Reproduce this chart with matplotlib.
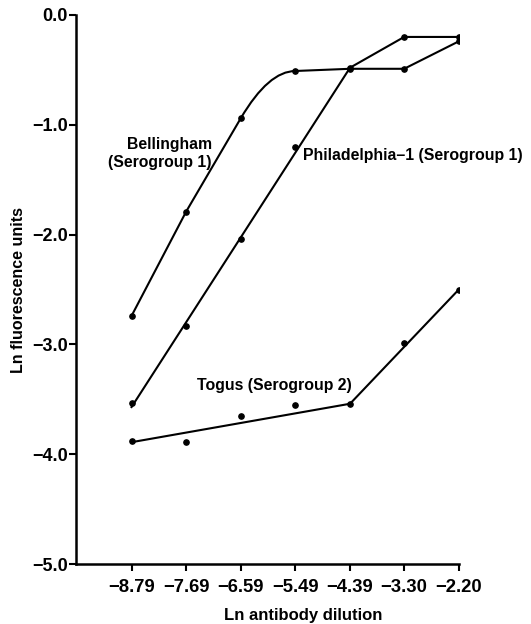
import matplotlib
matplotlib.use("Agg")
import matplotlib.pyplot as plt
from matplotlib.path import Path
from matplotlib.patches import PathPatch

plt.rcParams['font.family'] = ['Liberation Sans', 'DejaVu Sans']
plt.rcParams['font.weight'] = 'bold'

# Ln antibody dilution (x) et Ln fluorescence units (y)
dilutions = [-8.79, -7.69, -6.59, -5.49, -4.39, -3.30, -2.20]
x_tick_labels = ["\u22128.79", "\u22127.69", "\u22126.59", "\u22125.49",
                 "\u22124.39", "\u22123.30", "\u22122.20"]
y_ticks = [0.0, -1.0, -2.0, -3.0, -4.0, -5.0]
y_tick_labels = ["0.0", "\u22121.0", "\u22122.0", "\u22123.0", "\u22124.0", "\u22125.0"]

bell_y = [-2.74, -1.79, -0.94, -0.51, -0.49, -0.49, -0.24]
phil_y = [-3.53, -2.83, -2.04, -1.20, -0.48, -0.20, -0.20]
togus_y = [-3.88, -3.89, -3.65, -3.55, -3.54, -2.99, -2.50]

# courbes tracees a la main sur la figure
bell_bend_x = [-6.59, -6.03, -5.49]
bell_bend_y = [-0.94, -0.51, -0.51]
phil_fit_x = [-8.79, -4.39, -3.30, -2.20]
phil_fit_y = [-3.57, -0.48, -0.20, -0.20]
togus_fit_x = [-8.79, -4.39, -2.20]
togus_fit_y = [-3.89, -3.54, -2.50]

fig = plt.figure(figsize=(5.31, 6.24), dpi=100)
ax = fig.add_axes([0.143, 0.096, 0.721, 0.880])

lw = 1.5
ms = 3.8

# Bellingham
ax.plot(dilutions[:3], bell_y[:3], color='black', lw=lw)
bend = Path(list(zip(bell_bend_x, bell_bend_y)), [Path.MOVETO, Path.CURVE3, Path.CURVE3])
ax.add_patch(PathPatch(bend, facecolor='none', edgecolor='black', lw=lw))
ax.plot(dilutions[3:], bell_y[3:], color='black', lw=lw)
ax.plot(dilutions, bell_y, 'o', color='black', ms=ms)

# Philadelphia-1
ax.plot(phil_fit_x, phil_fit_y, color='black', lw=lw)
ax.plot(dilutions, phil_y, 'o', color='black', ms=ms)

# Togus
ax.plot(togus_fit_x, togus_fit_y, color='black', lw=lw)
ax.plot(dilutions, togus_y, 'o', color='black', ms=ms)

ax.text(-7.17, -1.26, "Bellingham\n(Serogroup 1)", ha='right', va='center',
        fontsize=11.3, fontweight='bold', linespacing=1.3)
ax.text(-5.345, -1.275, "Philadelphia\u20131 (Serogroup 1)", ha='left', va='center',
        fontsize=11.4, fontweight='bold', clip_on=False)
ax.text(-7.48, -3.37, "Togus (Serogroup 2)", ha='left', va='center',
        fontsize=11.4, fontweight='bold')

ax.set_xlim(-9.91, -2.20)
ax.set_ylim(-5.0, 0.0)
ax.set_xticks(dilutions)
ax.set_xticklabels(x_tick_labels, fontsize=13.3, fontweight='bold')
ax.set_yticks(y_ticks)
ax.set_yticklabels(y_tick_labels, fontsize=13, fontweight='bold')
ax.tick_params(axis='x', direction='out', length=5, width=1.5, pad=6)
ax.tick_params(axis='y', direction='out', length=5, width=1.5, pad=1)

for side in ['top', 'right']:
    ax.spines[side].set_visible(False)
for side in ['left', 'bottom']:
    ax.spines[side].set_linewidth(1.8)

ax.set_xlabel("Ln antibody dilution", fontsize=12, fontweight='bold')
ax.set_ylabel("Ln fluorescence units", fontsize=11.5, fontweight='bold')
ax.xaxis.set_label_coords(0.593, -0.093)
ax.yaxis.set_label_coords(-0.151, 0.5)
ax.xaxis.label.set_va('center')
ax.yaxis.label.set_va('center')

fig.savefig("out.png", dpi=100)
